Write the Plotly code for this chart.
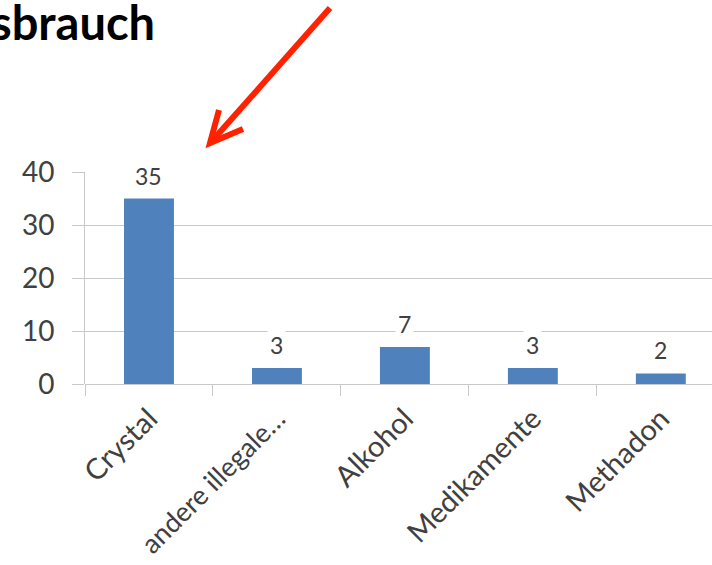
import plotly.graph_objects as go

categories = ["Crystal", "andere illegale…", "Alkohol", "Medikamente", "Methadon"]
values = [35, 3, 7, 3, 2]
y_ticks = [0, 10, 20, 30, 40]

W, H = 712, 565
L, R, T, B = 85, 0, 172, 181
PW, PH = W - L - R, H - T - B

def px(x):
    return (x - L) / PW

def py(y):
    return (H - B - y) / PH

# slightly smaller size for the long truncated label so it stays inside the page
tick_text = [c if len(c) < 12 else f"<span style='font-size:27px'>{c}</span>" for c in categories]

fig = go.Figure()
fig.add_trace(go.Bar(
    x=categories, y=values, width=0.39,
    marker=dict(color="#4F81BD", line=dict(width=0)),
    hoverinfo="skip",
))

for c, v in zip(categories, values):
    fig.add_annotation(x=c, y=v, xref="x", yref="y", text=str(v), showarrow=False,
                       yshift=23, font=dict(family="Lato", size=23, color="#404040"),
                       bgcolor="white", borderpad=2)

fig.add_annotation(x=px(-11), y=py(22), xref="paper", yref="paper", text="<b>sbrauch</b>",
                   showarrow=False, xanchor="left", yanchor="middle",
                   font=dict(family="Lato", size=47, color="#000000"))

red = "#FF2200"
fig.add_shape(type="line", xref="paper", yref="paper",
              x0=px(330), y0=py(8), x1=px(212), y1=py(141),
              line=dict(color=red, width=6))
fig.add_shape(type="path", xref="paper", yref="paper",
              path=f"M {px(219)},{py(110)} L {px(210)},{py(143)} L {px(243)},{py(129)}",
              line=dict(color=red, width=6))

fig.update_layout(
    width=W, height=H,
    margin=dict(l=L, r=R, t=T, b=B),
    paper_bgcolor="white", plot_bgcolor="white",
    showlegend=False,
    font=dict(family="Lato", color="#404040"),
    xaxis=dict(range=[-0.5, 4.4], tickangle=-45, tickfont=dict(size=29, color="#404040"),
               tickmode="array", tickvals=categories, ticktext=tick_text,
               ticks="outside", tickson="boundaries", ticklen=11, tickcolor="#C8C8C8",
               showline=False, showgrid=False, zeroline=False, automargin=False,
               ticklabelstandoff=11),
    yaxis=dict(range=[0, 40], tickvals=y_ticks, tickfont=dict(size=28, color="#404040"),
               showgrid=True, gridcolor="#C8C8C8", gridwidth=1,
               ticks="outside", ticklen=12, tickcolor="#C8C8C8",
               showline=True, linecolor="#C8C8C8", linewidth=1,
               zeroline=True, zerolinecolor="#C8C8C8", zerolinewidth=1,
               ticklabelstandoff=12, automargin=False),
)

fig.write_html("out.html")
